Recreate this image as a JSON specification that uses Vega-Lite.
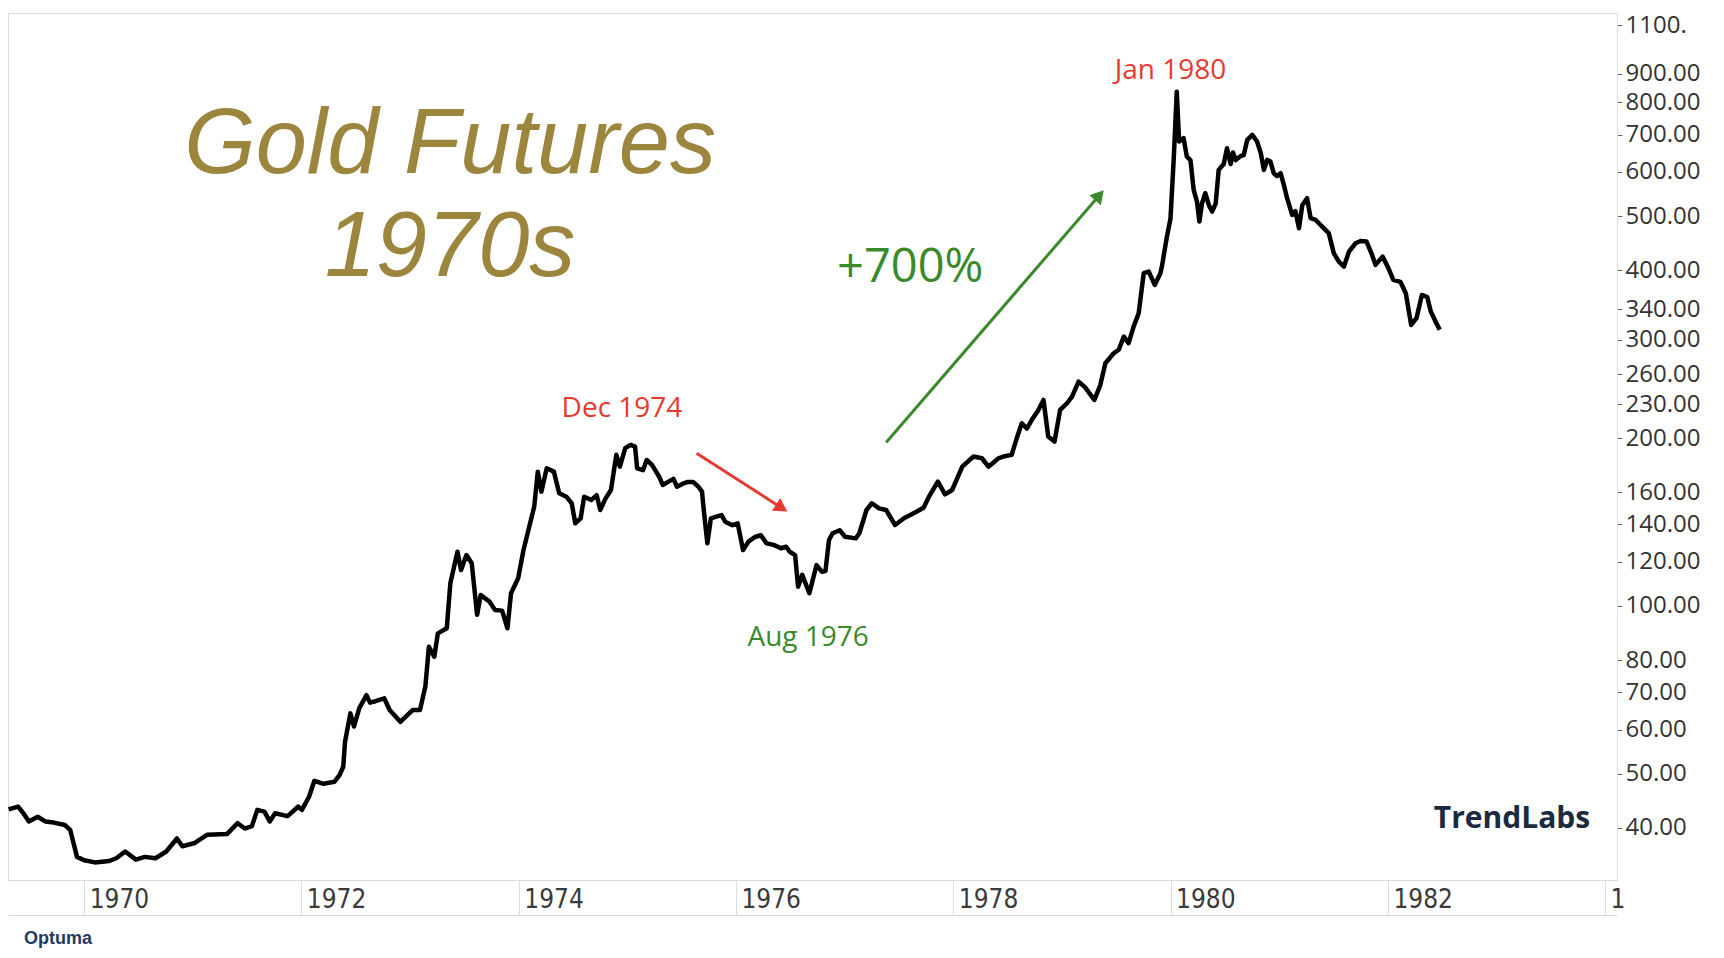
{
  "$schema": "https://vega.github.io/schema/vega-lite/v6.json",
  "width": 1609,
  "height": 867,
  "padding": {"left": 6, "top": 13, "right": 0, "bottom": 0},
  "background": "white",
  "config": {
    "view": {"stroke": "#dcdcdc", "strokeWidth": 1},
    "axis": {"grid": false, "title": null}
  },
  "title": {
    "text": "Optuma",
    "orient": "bottom",
    "anchor": "start",
    "frame": "group",
    "font": "Liberation Sans Narrow, Liberation Sans",
    "fontSize": 18,
    "fontWeight": "bold",
    "color": "#1f3b63",
    "dx": 16,
    "offset": 14
  },
  "datasets": {
    "gold": [
      {"date": "1969-04-22", "price": 43.2}, {"date": "1969-05-24", "price": 43.7}, {"date": "1969-06-11", "price": 42.5},
      {"date": "1969-06-29", "price": 41.1}, {"date": "1969-07-29", "price": 41.9}, {"date": "1969-08-23", "price": 41.1},
      {"date": "1969-09-21", "price": 40.9}, {"date": "1969-10-28", "price": 40.5}, {"date": "1969-11-15", "price": 39.7},
      {"date": "1969-12-08", "price": 35.5}, {"date": "1970-01-01", "price": 35.0}, {"date": "1970-02-06", "price": 34.7},
      {"date": "1970-03-26", "price": 34.9}, {"date": "1970-04-19", "price": 35.3}, {"date": "1970-05-19", "price": 36.3},
      {"date": "1970-06-24", "price": 35.1}, {"date": "1970-07-24", "price": 35.5}, {"date": "1970-08-29", "price": 35.3},
      {"date": "1970-10-04", "price": 36.3}, {"date": "1970-11-09", "price": 38.3}, {"date": "1970-11-27", "price": 37.1},
      {"date": "1971-01-08", "price": 37.6}, {"date": "1971-02-19", "price": 38.9}, {"date": "1971-04-26", "price": 39.0},
      {"date": "1971-06-01", "price": 40.8}, {"date": "1971-06-25", "price": 39.9}, {"date": "1971-07-19", "price": 40.3},
      {"date": "1971-08-06", "price": 43.1}, {"date": "1971-08-30", "price": 42.8}, {"date": "1971-09-17", "price": 41.1},
      {"date": "1971-10-05", "price": 42.5}, {"date": "1971-11-16", "price": 42.0}, {"date": "1971-12-22", "price": 43.7},
      {"date": "1972-01-03", "price": 43.1}, {"date": "1972-01-27", "price": 45.5}, {"date": "1972-02-14", "price": 48.6},
      {"date": "1972-03-16", "price": 48.0}, {"date": "1972-04-21", "price": 48.4}, {"date": "1972-05-09", "price": 49.8},
      {"date": "1972-05-21", "price": 51.5}, {"date": "1972-05-27", "price": 57.1}, {"date": "1972-06-14", "price": 64.2},
      {"date": "1972-06-26", "price": 60.8}, {"date": "1972-07-14", "price": 65.6}, {"date": "1972-08-07", "price": 69.2},
      {"date": "1972-08-19", "price": 67.1}, {"date": "1972-09-06", "price": 67.5}, {"date": "1972-10-06", "price": 68.3},
      {"date": "1972-10-24", "price": 65.1}, {"date": "1972-11-29", "price": 62.0}, {"date": "1973-01-10", "price": 65.1},
      {"date": "1973-02-03", "price": 65.1}, {"date": "1973-02-21", "price": 71.7}, {"date": "1973-03-05", "price": 84.5},
      {"date": "1973-03-23", "price": 81.1}, {"date": "1973-04-04", "price": 89.3}, {"date": "1973-05-04", "price": 91.2},
      {"date": "1973-05-16", "price": 109.8}, {"date": "1973-06-09", "price": 125.1}, {"date": "1973-06-21", "price": 116.0},
      {"date": "1973-07-09", "price": 123.4}, {"date": "1973-07-27", "price": 119.3}, {"date": "1973-08-14", "price": 96.4},
      {"date": "1973-08-26", "price": 104.6}, {"date": "1973-09-25", "price": 101.8}, {"date": "1973-10-13", "price": 98.4},
      {"date": "1973-11-06", "price": 98.1}, {"date": "1973-11-24", "price": 91.2}, {"date": "1973-12-06", "price": 105.4},
      {"date": "1973-12-30", "price": 112.1}, {"date": "1974-01-17", "price": 126.0}, {"date": "1974-02-04", "price": 137.8},
      {"date": "1974-02-22", "price": 150.7}, {"date": "1974-03-06", "price": 174.1}, {"date": "1974-03-18", "price": 160.3},
      {"date": "1974-04-05", "price": 176.5}, {"date": "1974-04-29", "price": 174.1}, {"date": "1974-05-17", "price": 159.2},
      {"date": "1974-06-10", "price": 157.0}, {"date": "1974-06-28", "price": 152.8}, {"date": "1974-07-10", "price": 140.7},
      {"date": "1974-07-28", "price": 143.6}, {"date": "1974-08-09", "price": 157.0}, {"date": "1974-09-02", "price": 154.9},
      {"date": "1974-09-20", "price": 158.0}, {"date": "1974-10-02", "price": 148.6}, {"date": "1974-10-20", "price": 155.9},
      {"date": "1974-11-07", "price": 161.4}, {"date": "1974-11-25", "price": 186.6}, {"date": "1974-12-07", "price": 177.7},
      {"date": "1974-12-25", "price": 191.8}, {"date": "1975-01-12", "price": 194.4}, {"date": "1975-01-27", "price": 193.0},
      {"date": "1975-02-03", "price": 176.5}, {"date": "1975-02-23", "price": 175.2}, {"date": "1975-03-07", "price": 182.7},
      {"date": "1975-03-25", "price": 179.0}, {"date": "1975-04-18", "price": 170.5}, {"date": "1975-04-30", "price": 164.8},
      {"date": "1975-05-18", "price": 166.9}, {"date": "1975-06-05", "price": 169.0}, {"date": "1975-06-17", "price": 163.6},
      {"date": "1975-07-05", "price": 165.5}, {"date": "1975-07-23", "price": 166.9}, {"date": "1975-08-10", "price": 166.9},
      {"date": "1975-08-28", "price": 163.6}, {"date": "1975-09-09", "price": 160.3}, {"date": "1975-09-15", "price": 148.6},
      {"date": "1975-09-27", "price": 129.5}, {"date": "1975-10-09", "price": 143.6}, {"date": "1975-10-27", "price": 144.6},
      {"date": "1975-11-14", "price": 145.5}, {"date": "1975-11-26", "price": 141.6}, {"date": "1975-12-20", "price": 139.6},
      {"date": "1976-01-07", "price": 140.6}, {"date": "1976-01-25", "price": 126.0}, {"date": "1976-02-12", "price": 130.4},
      {"date": "1976-03-07", "price": 133.1}, {"date": "1976-03-25", "price": 133.9}, {"date": "1976-04-13", "price": 129.5},
      {"date": "1976-05-07", "price": 128.7}, {"date": "1976-05-31", "price": 126.9}, {"date": "1976-06-18", "price": 127.7},
      {"date": "1976-06-30", "price": 125.1}, {"date": "1976-07-18", "price": 123.4}, {"date": "1976-07-28", "price": 108.3},
      {"date": "1976-08-11", "price": 113.7}, {"date": "1976-09-04", "price": 105.4}, {"date": "1976-09-28", "price": 118.4},
      {"date": "1976-10-16", "price": 115.2}, {"date": "1976-10-28", "price": 115.5}, {"date": "1976-11-09", "price": 131.3},
      {"date": "1976-11-21", "price": 135.0}, {"date": "1976-12-15", "price": 136.7}, {"date": "1977-01-02", "price": 133.1},
      {"date": "1977-02-07", "price": 132.2}, {"date": "1977-02-19", "price": 135.0}, {"date": "1977-03-15", "price": 148.6},
      {"date": "1977-04-02", "price": 152.8}, {"date": "1977-04-26", "price": 149.6}, {"date": "1977-05-20", "price": 148.6},
      {"date": "1977-06-19", "price": 139.7}, {"date": "1977-07-19", "price": 143.6}, {"date": "1977-08-30", "price": 147.5},
      {"date": "1977-09-23", "price": 150.0}, {"date": "1977-10-11", "price": 157.0}, {"date": "1977-11-10", "price": 167.1},
      {"date": "1977-12-04", "price": 158.5}, {"date": "1977-12-28", "price": 161.4}, {"date": "1978-01-31", "price": 177.7},
      {"date": "1978-03-10", "price": 185.3}, {"date": "1978-04-07", "price": 184.0}, {"date": "1978-04-29", "price": 177.7},
      {"date": "1978-06-02", "price": 184.0}, {"date": "1978-06-18", "price": 185.3}, {"date": "1978-07-16", "price": 186.6},
      {"date": "1978-08-02", "price": 199.8}, {"date": "1978-08-19", "price": 212.6}, {"date": "1978-09-05", "price": 208.0},
      {"date": "1978-09-22", "price": 215.6}, {"date": "1978-10-14", "price": 224.6}, {"date": "1978-10-31", "price": 234.1},
      {"date": "1978-11-16", "price": 201.2}, {"date": "1978-12-07", "price": 197.1}, {"date": "1978-12-26", "price": 224.6},
      {"date": "1979-01-18", "price": 230.9}, {"date": "1979-02-04", "price": 237.3}, {"date": "1979-02-26", "price": 252.5},
      {"date": "1979-03-20", "price": 246.5}, {"date": "1979-04-20", "price": 234.1}, {"date": "1979-05-10", "price": 248.9},
      {"date": "1979-05-27", "price": 272.3}, {"date": "1979-06-24", "price": 283.8}, {"date": "1979-07-11", "price": 288.0},
      {"date": "1979-07-28", "price": 304.0}, {"date": "1979-08-13", "price": 296.0}, {"date": "1979-08-30", "price": 316.8},
      {"date": "1979-09-16", "price": 334.8}, {"date": "1979-10-03", "price": 395.0}, {"date": "1979-10-20", "price": 397.6},
      {"date": "1979-11-09", "price": 376.3}, {"date": "1979-11-28", "price": 395.0}, {"date": "1979-12-03", "price": 405.9},
      {"date": "1979-12-20", "price": 459.3}, {"date": "1980-01-01", "price": 495.0}, {"date": "1980-01-12", "price": 634.8},
      {"date": "1980-01-22", "price": 835.6}, {"date": "1980-01-30", "price": 679.9}, {"date": "1980-02-14", "price": 690.0},
      {"date": "1980-02-25", "price": 639.0}, {"date": "1980-03-08", "price": 630.0}, {"date": "1980-03-19", "price": 557.0},
      {"date": "1980-03-30", "price": 530.8}, {"date": "1980-04-07", "price": 488.7}, {"date": "1980-04-16", "price": 527.0},
      {"date": "1980-04-27", "price": 549.5}, {"date": "1980-05-09", "price": 523.0}, {"date": "1980-05-20", "price": 509.3},
      {"date": "1980-06-01", "price": 527.0}, {"date": "1980-06-11", "price": 604.9}, {"date": "1980-06-28", "price": 620.0},
      {"date": "1980-07-09", "price": 661.5}, {"date": "1980-07-21", "price": 620.0}, {"date": "1980-07-29", "price": 650.0},
      {"date": "1980-08-07", "price": 630.0}, {"date": "1980-08-23", "price": 640.0}, {"date": "1980-09-03", "price": 643.0},
      {"date": "1980-09-15", "price": 684.6}, {"date": "1980-10-02", "price": 699.0}, {"date": "1980-10-18", "price": 680.0},
      {"date": "1980-10-30", "price": 650.0}, {"date": "1980-11-10", "price": 604.9}, {"date": "1980-11-21", "price": 630.4},
      {"date": "1980-12-02", "price": 626.0}, {"date": "1980-12-13", "price": 596.8}, {"date": "1980-12-24", "price": 590.0},
      {"date": "1981-01-05", "price": 596.8}, {"date": "1981-01-16", "price": 568.6}, {"date": "1981-01-27", "price": 538.2},
      {"date": "1981-02-13", "price": 502.3}, {"date": "1981-02-24", "price": 510.0}, {"date": "1981-03-08", "price": 475.5},
      {"date": "1981-03-19", "price": 523.0}, {"date": "1981-04-04", "price": 538.2}, {"date": "1981-04-16", "price": 495.6},
      {"date": "1981-05-03", "price": 492.0}, {"date": "1981-05-25", "price": 478.6}, {"date": "1981-06-16", "price": 466.0},
      {"date": "1981-07-03", "price": 428.8}, {"date": "1981-07-20", "price": 414.3}, {"date": "1981-08-06", "price": 405.9},
      {"date": "1981-08-23", "price": 431.7}, {"date": "1981-09-14", "price": 446.9}, {"date": "1981-10-01", "price": 451.0},
      {"date": "1981-10-21", "price": 450.0}, {"date": "1981-11-08", "price": 427.0}, {"date": "1981-11-20", "price": 408.7},
      {"date": "1981-12-14", "price": 422.9}, {"date": "1982-01-01", "price": 405.0}, {"date": "1982-01-19", "price": 384.1},
      {"date": "1982-02-12", "price": 381.0}, {"date": "1982-03-02", "price": 363.6}, {"date": "1982-03-20", "price": 319.0},
      {"date": "1982-04-07", "price": 328.0}, {"date": "1982-04-25", "price": 361.0}, {"date": "1982-05-13", "price": 358.0},
      {"date": "1982-05-25", "price": 337.1}, {"date": "1982-06-12", "price": 322.0}, {"date": "1982-06-24", "price": 312.6}
    ],
    "heading": [
      {"date": "1973-05-15", "price": 598, "text": "Gold Futures"},
      {"date": "1973-05-15", "price": 390, "text": "1970s"}
    ],
    "notes": [
      {"date": "1974-12-14", "price": 218, "text": "Dec 1974"},
      {"date": "1980-01-01", "price": 880, "text": "Jan 1980"},
      {"date": "1976-08-31", "price": 84.8, "text": "Aug 1976"},
      {"date": "1977-08-09", "price": 381, "text": "+700%"}
    ],
    "arrows": [
      {"move": "fall", "date": "1975-08-22", "price": 187.8, "date2": "1976-06-03", "price2": 149.9},
      {"move": "rise", "date": "1977-05-20", "price": 196.4, "date2": "1979-05-07", "price2": 544.9}
    ],
    "brand": [
      {"date": "1982-06-04", "price": 40.0, "text": "TrendLabs"}
    ]
  },
  "resolve": {"axis": {"x": "independent", "y": "independent"}},
  "layer": [
    {
      "encoding": {
        "x": {
          "field": "date",
          "type": "temporal",
          "scale": {"domain": [{"year": 1969, "month": 4, "date": 20}, {"year": 1984, "month": 2, "date": 10}]},
          "axis": {
            "orient": "bottom",
            "values": [{"year": 1970}, {"year": 1972}, {"year": 1974}, {"year": 1976}, {"year": 1978}, {"year": 1980}, {"year": 1982}, {"year": 1984}],
            "format": "%Y",
            "labelExpr": "year(datum.value) == 1984 ? '1' : datum.label",
            "domainColor": "#dcdcdc",
            "tickColor": "#dcdcdc",
            "tickSize": 35,
            "labelAlign": "left",
            "labelBaseline": "middle",
            "labelOffset": 5,
            "labelPadding": -16,
            "labelFlush": false,
            "labelOverlap": false,
            "labelFont": "Liberation Sans Narrow, DejaVu Sans Condensed, Liberation Sans",
            "labelFontSize": 26,
            "labelColor": "#3a3a3a"
          }
        },
        "y": {
          "field": "price",
          "type": "quantitative",
          "scale": {"type": "log", "domain": [32.27, 1156], "nice": false},
          "axis": {
            "orient": "right",
            "values": [40, 50, 60, 70, 80, 100, 120, 140, 160, 200, 230, 260, 300, 340, 400, 500, 600, 700, 800, 900, 1100],
            "format": ".2f",
            "labelExpr": "datum.value == 1100 ? '1100.' : datum.label",
            "domainColor": "#dcdcdc",
            "tickColor": "#666666",
            "tickSize": 5,
            "labelPadding": 3,
            "labelOverlap": false,
            "labelFont": "Open Sans",
            "labelFontSize": 24,
            "labelColor": "#333333",
            "labelBaseline": "middle"
          }
        }
      },
      "layer": [
        {
          "data": {"name": "gold"},
          "mark": {"type": "line", "color": "black", "strokeWidth": 4.5, "strokeJoin": "round"}
        },
        {
          "data": {"name": "heading"},
          "mark": {"type": "text", "font": "Liberation Sans", "fontStyle": "italic", "fontSize": 92, "color": "#9c853d", "align": "center", "baseline": "alphabetic"},
          "encoding": {"text": {"field": "text"}}
        },
        {
          "data": {"name": "notes"},
          "transform": [{"filter": {"field": "text", "oneOf": ["Dec 1974", "Jan 1980"]}}],
          "mark": {"type": "text", "font": "Open Sans", "fontSize": 28, "color": "#e53a2f", "align": "center", "baseline": "alphabetic"},
          "encoding": {"text": {"field": "text"}}
        },
        {
          "data": {"name": "notes"},
          "transform": [{"filter": {"field": "text", "equal": "Aug 1976"}}],
          "mark": {"type": "text", "font": "Open Sans", "fontSize": 28, "color": "#3a8a2c", "align": "center", "baseline": "alphabetic"},
          "encoding": {"text": {"field": "text"}}
        },
        {
          "data": {"name": "notes"},
          "transform": [{"filter": {"field": "text", "equal": "+700%"}}],
          "mark": {"type": "text", "font": "Open Sans", "fontSize": 47, "color": "#3a8a2c", "align": "center", "baseline": "alphabetic"},
          "encoding": {"text": {"field": "text"}}
        },
        {
          "data": {"name": "arrows"},
          "transform": [{"filter": {"field": "move", "equal": "fall"}}],
          "mark": {"type": "rule", "color": "#e53a2f", "strokeWidth": 3},
          "encoding": {"x2": {"field": "date2"}, "y2": {"field": "price2"}}
        },
        {
          "data": {"name": "arrows"},
          "transform": [{"filter": {"field": "move", "equal": "fall"}}],
          "mark": {"type": "point", "shape": "triangle-right", "filled": true, "color": "#e53a2f", "opacity": 1, "size": 230, "angle": 32.7},
          "encoding": {"x": {"field": "date2", "type": "temporal"}, "y": {"field": "price2", "type": "quantitative"}}
        },
        {
          "data": {"name": "arrows"},
          "transform": [{"filter": {"field": "move", "equal": "rise"}}],
          "mark": {"type": "rule", "color": "#3a8a2c", "strokeWidth": 3},
          "encoding": {"x2": {"field": "date2"}, "y2": {"field": "price2"}}
        },
        {
          "data": {"name": "arrows"},
          "transform": [{"filter": {"field": "move", "equal": "rise"}}],
          "mark": {"type": "point", "shape": "triangle-right", "filled": true, "color": "#3a8a2c", "opacity": 1, "size": 230, "angle": -49.2},
          "encoding": {"x": {"field": "date2", "type": "temporal"}, "y": {"field": "price2", "type": "quantitative"}}
        }
      ]
    },
    {
      "data": {"name": "brand"},
      "mark": {"type": "text", "font": "Open Sans", "fontWeight": "bold", "fontSize": 30, "color": "#1b2a3f", "align": "left", "baseline": "alphabetic"},
      "encoding": {
        "x": {
          "field": "date",
          "type": "temporal",
          "axis": {"orient": "bottom", "offset": 35, "labels": false, "ticks": false, "domainColor": "#dcdcdc"}
        },
        "y": {
          "field": "price",
          "type": "quantitative",
          "axis": {"orient": "right", "offset": 105, "labels": false, "ticks": false, "domainColor": "#dcdcdc"}
        },
        "text": {"field": "text"}
      }
    }
  ]
}
